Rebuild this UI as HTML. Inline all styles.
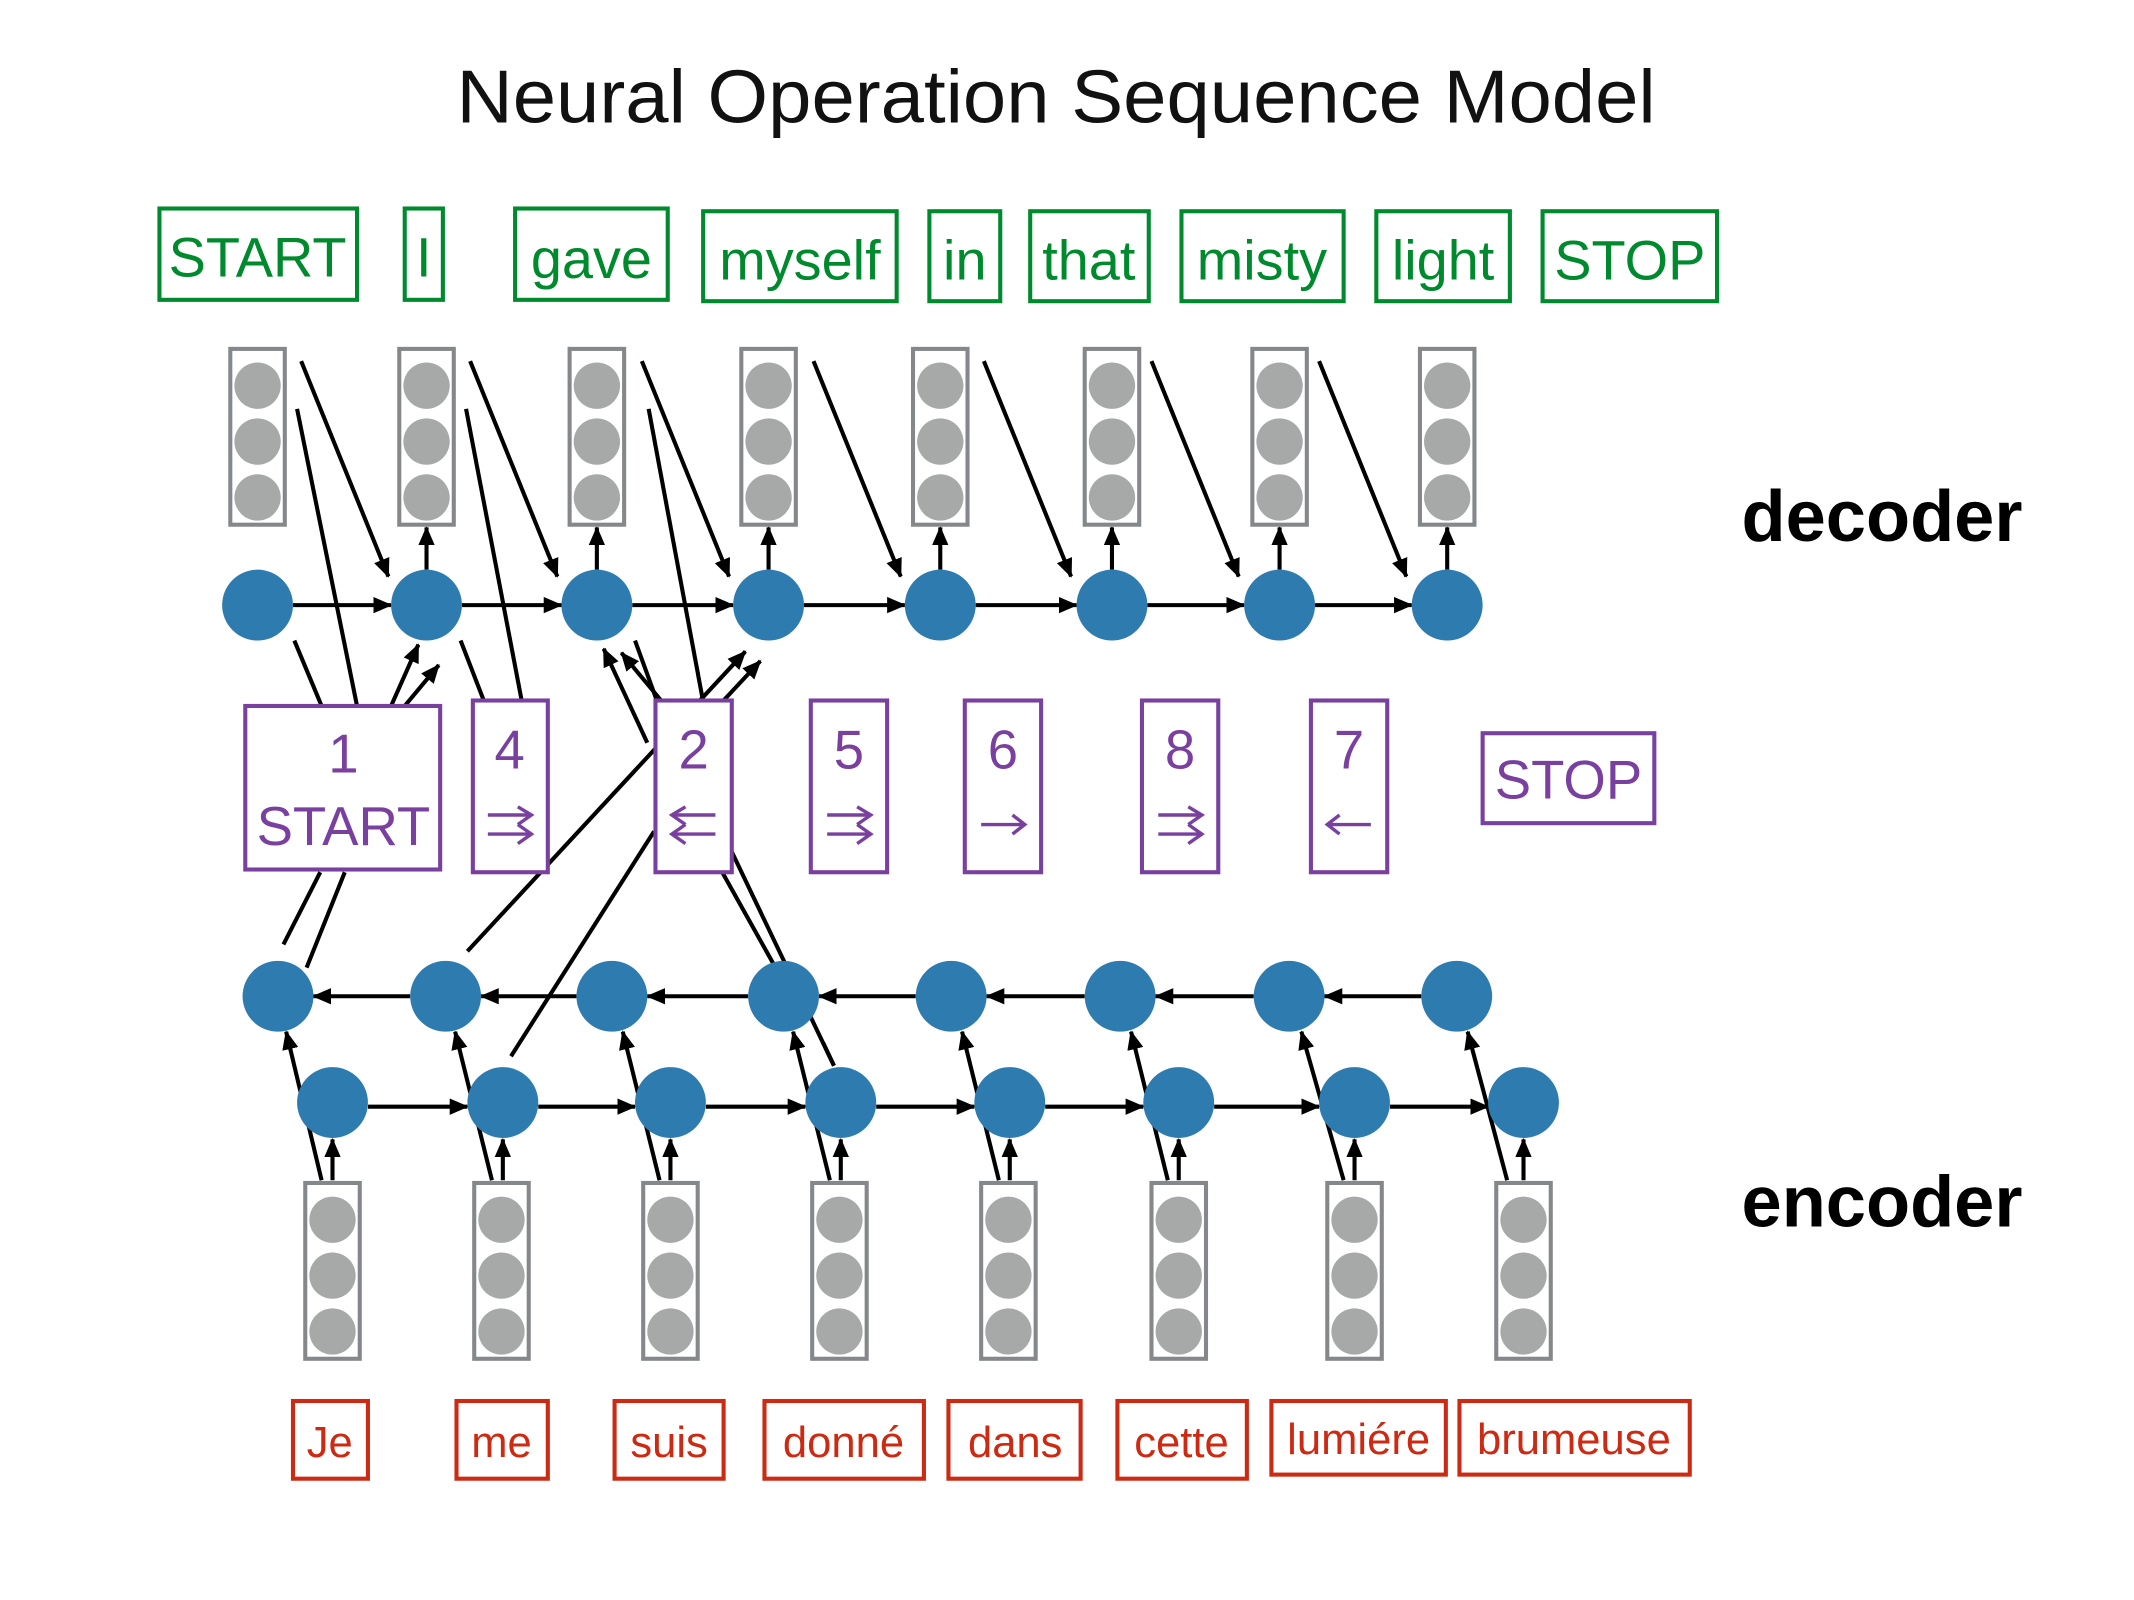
<!DOCTYPE html>
<html><head><meta charset="utf-8"><style>
html,body{margin:0;padding:0;background:#fff;}
svg{display:block;}
text{font-family:"Liberation Sans",sans-serif;}
</style></head><body>
<svg width="2134" height="1600" viewBox="0 0 1566 1174" preserveAspectRatio="none" xmlns="http://www.w3.org/2000/svg">
<defs>
<marker id="a" markerUnits="userSpaceOnUse" markerWidth="14" markerHeight="12" refX="13" refY="6" orient="auto">
<path d="M0,0 L14,6 L0,12 z" fill="#000"/>
</marker>
<g id="vec">
<rect x="-20" y="0" width="40" height="129" fill="#fff" stroke="#85888b" stroke-width="3"/>
<circle cx="0" cy="27" r="17" fill="#a6a9a8"/>
<circle cx="0" cy="68" r="17" fill="#a6a9a8"/>
<circle cx="0" cy="109" r="17" fill="#a6a9a8"/>
</g>
</defs>
<rect width="1566" height="1174" fill="#fff"/>
<text x="335" y="90" font-size="55" textLength="880" lengthAdjust="spacingAndGlyphs" fill="#111">Neural Operation Sequence Model</text>

<g fill="none" stroke="#008a2e" stroke-width="3">
<rect x="117" y="153" width="145" height="67"/>
<rect x="297" y="153" width="28" height="67"/>
<rect x="378" y="153" width="112" height="67"/>
<rect x="516" y="155" width="142" height="66"/>
<rect x="682" y="155" width="52" height="66"/>
<rect x="756" y="155" width="87" height="66"/>
<rect x="867" y="155" width="119" height="66"/>
<rect x="1010" y="155" width="98" height="66"/>
<rect x="1132" y="155" width="128" height="66"/>
</g>
<g fill="#008a2e" font-size="41" text-anchor="middle">
<text x="189" y="203">START</text>
<text x="311" y="203">I</text>
<text x="434" y="204">gave</text>
<text x="587" y="205">myself</text>
<text x="708" y="205">in</text>
<text x="799" y="205">that</text>
<text x="926" y="205">misty</text>
<text x="1059" y="205">light</text>
<text x="1196" y="205">STOP</text>
</g>

<g stroke="#000" stroke-width="3" fill="none">
<line x1="215" y1="444" x2="287" y2="444" marker-end="url(#a)"/>
<line x1="339" y1="444" x2="412" y2="444" marker-end="url(#a)"/>
<line x1="464" y1="444" x2="538" y2="444" marker-end="url(#a)"/>
<line x1="590" y1="444" x2="664" y2="444" marker-end="url(#a)"/>
<line x1="716" y1="444" x2="790" y2="444" marker-end="url(#a)"/>
<line x1="842" y1="444" x2="913" y2="444" marker-end="url(#a)"/>
<line x1="965" y1="444" x2="1036" y2="444" marker-end="url(#a)"/>
<line x1="313" y1="418" x2="313" y2="387" marker-end="url(#a)"/>
<line x1="438" y1="418" x2="438" y2="387" marker-end="url(#a)"/>
<line x1="564" y1="418" x2="564" y2="387" marker-end="url(#a)"/>
<line x1="690" y1="418" x2="690" y2="387" marker-end="url(#a)"/>
<line x1="816" y1="418" x2="816" y2="387" marker-end="url(#a)"/>
<line x1="939" y1="418" x2="939" y2="387" marker-end="url(#a)"/>
<line x1="1062" y1="418" x2="1062" y2="387" marker-end="url(#a)"/>
<line x1="221" y1="265" x2="285" y2="423" marker-end="url(#a)"/>
<line x1="345" y1="265" x2="409" y2="423" marker-end="url(#a)"/>
<line x1="471" y1="265" x2="535" y2="423" marker-end="url(#a)"/>
<line x1="597" y1="265" x2="661" y2="423" marker-end="url(#a)"/>
<line x1="722" y1="265" x2="786" y2="423" marker-end="url(#a)"/>
<line x1="845" y1="265" x2="909" y2="423" marker-end="url(#a)"/>
<line x1="968" y1="265" x2="1032" y2="423" marker-end="url(#a)"/>
<line x1="218" y1="300" x2="262" y2="518"/>
<line x1="342" y1="300" x2="383" y2="515"/>
<line x1="476" y1="300" x2="516" y2="515"/>
<line x1="216" y1="470" x2="236" y2="518"/>
<line x1="338" y1="470" x2="355" y2="514"/>
<line x1="466" y1="470" x2="482" y2="514"/>
<line x1="287" y1="518" x2="307" y2="473" marker-end="url(#a)"/>
<line x1="297" y1="518" x2="322" y2="488" marker-end="url(#a)"/>
<line x1="208" y1="693" x2="235" y2="640"/>
<line x1="225" y1="710" x2="253" y2="640"/>
<line x1="343" y1="698" x2="547" y2="478" marker-end="url(#a)"/>
<line x1="530" y1="515" x2="558" y2="485" marker-end="url(#a)"/>
<path d="M375,775 L480,610"/>
<line x1="475" y1="545" x2="443" y2="476" marker-end="url(#a)"/>
<line x1="486" y1="515" x2="456" y2="479" marker-end="url(#a)"/>
<line x1="612" y1="782" x2="537" y2="625"/>
<line x1="568" y1="708" x2="530" y2="640"/>
<line x1="301" y1="731" x2="230" y2="731" marker-end="url(#a)"/>
<line x1="423" y1="731" x2="353" y2="731" marker-end="url(#a)"/>
<line x1="549" y1="731" x2="475" y2="731" marker-end="url(#a)"/>
<line x1="672" y1="731" x2="601" y2="731" marker-end="url(#a)"/>
<line x1="796" y1="731" x2="724" y2="731" marker-end="url(#a)"/>
<line x1="920" y1="731" x2="848" y2="731" marker-end="url(#a)"/>
<line x1="1043" y1="731" x2="972" y2="731" marker-end="url(#a)"/>
<line x1="270" y1="812" x2="343" y2="812" marker-end="url(#a)"/>
<line x1="395" y1="812" x2="466" y2="812" marker-end="url(#a)"/>
<line x1="518" y1="812" x2="591" y2="812" marker-end="url(#a)"/>
<line x1="643" y1="812" x2="715" y2="812" marker-end="url(#a)"/>
<line x1="767" y1="812" x2="839" y2="812" marker-end="url(#a)"/>
<line x1="891" y1="812" x2="968" y2="812" marker-end="url(#a)"/>
<line x1="1020" y1="812" x2="1092" y2="812" marker-end="url(#a)"/>
<line x1="244" y1="866" x2="244" y2="836" marker-end="url(#a)"/>
<line x1="369" y1="866" x2="369" y2="836" marker-end="url(#a)"/>
<line x1="492" y1="866" x2="492" y2="836" marker-end="url(#a)"/>
<line x1="617" y1="866" x2="617" y2="836" marker-end="url(#a)"/>
<line x1="741" y1="866" x2="741" y2="836" marker-end="url(#a)"/>
<line x1="865" y1="866" x2="865" y2="836" marker-end="url(#a)"/>
<line x1="994" y1="866" x2="994" y2="836" marker-end="url(#a)"/>
<line x1="1118" y1="866" x2="1118" y2="836" marker-end="url(#a)"/>
<line x1="236" y1="866" x2="210" y2="757" marker-end="url(#a)"/>
<line x1="361" y1="866" x2="334" y2="757" marker-end="url(#a)"/>
<line x1="484" y1="866" x2="457" y2="757" marker-end="url(#a)"/>
<line x1="609" y1="866" x2="582" y2="757" marker-end="url(#a)"/>
<line x1="733" y1="866" x2="706" y2="757" marker-end="url(#a)"/>
<line x1="857" y1="866" x2="830" y2="757" marker-end="url(#a)"/>
<line x1="986" y1="866" x2="955" y2="757" marker-end="url(#a)"/>
<line x1="1106" y1="866" x2="1077" y2="757" marker-end="url(#a)"/>
</g>

<g fill="#2e7bb0">
<circle cx="189" cy="444" r="26"/><circle cx="313" cy="444" r="26"/><circle cx="438" cy="444" r="26"/><circle cx="564" cy="444" r="26"/>
<circle cx="690" cy="444" r="26"/><circle cx="816" cy="444" r="26"/><circle cx="939" cy="444" r="26"/><circle cx="1062" cy="444" r="26"/>
<circle cx="204" cy="731" r="26"/><circle cx="327" cy="731" r="26"/><circle cx="449" cy="731" r="26"/><circle cx="575" cy="731" r="26"/>
<circle cx="698" cy="731" r="26"/><circle cx="822" cy="731" r="26"/><circle cx="946" cy="731" r="26"/><circle cx="1069" cy="731" r="26"/>
<circle cx="244" cy="809" r="26"/><circle cx="369" cy="809" r="26"/><circle cx="492" cy="809" r="26"/><circle cx="617" cy="809" r="26"/>
<circle cx="741" cy="809" r="26"/><circle cx="865" cy="809" r="26"/><circle cx="994" cy="809" r="26"/><circle cx="1118" cy="809" r="26"/>
</g>
<g stroke="#000" stroke-width="3">
<line x1="604" y1="765" x2="612" y2="782"/>
</g>

<use href="#vec" x="189" y="256"/><use href="#vec" x="313" y="256"/><use href="#vec" x="438" y="256"/><use href="#vec" x="564" y="256"/>
<use href="#vec" x="690" y="256"/><use href="#vec" x="816" y="256"/><use href="#vec" x="939" y="256"/><use href="#vec" x="1062" y="256"/>
<use href="#vec" x="244" y="868"/><use href="#vec" x="368" y="868"/><use href="#vec" x="492" y="868"/><use href="#vec" x="616" y="868"/>
<use href="#vec" x="740" y="868"/><use href="#vec" x="865" y="868"/><use href="#vec" x="994" y="868"/><use href="#vec" x="1118" y="868"/>

<g fill="#fff" stroke="#7a40a0" stroke-width="3">
<rect x="180" y="518" width="143" height="120"/>
<rect x="347" y="514" width="55" height="126"/>
<rect x="481" y="514" width="56" height="126"/>
<rect x="595" y="514" width="56" height="126"/>
<rect x="708" y="514" width="56" height="126"/>
<rect x="838" y="514" width="56" height="126"/>
<rect x="962" y="514" width="56" height="126"/>
<rect x="1088" y="538" width="126" height="66"/>
</g>
<g fill="#7a40a0" font-size="40" text-anchor="middle">
<text x="252" y="567">1</text>
<text x="252" y="620">START</text>
<text x="374" y="564">4</text>
<text x="509" y="564">2</text>
<text x="623" y="564">5</text>
<text x="736" y="564">6</text>
<text x="866" y="564">8</text>
<text x="990" y="564">7</text>
<text x="1151" y="586">STOP</text>
</g>
<g stroke="#7a40a0" stroke-width="2.5" fill="none">
<path d="M358,598 H390 M358,612 H390 M380,592 L390,598 L380,605 M380,605 L390,612 L380,619"/>
<path d="M493,598 H525 M493,612 H525 M503,592 L493,598 L503,605 M503,605 L493,612 L503,619"/>
<path d="M607,598 H639 M607,612 H639 M629,592 L639,598 L629,605 M629,605 L639,612 L629,619"/>
<path d="M720,605 H752 M743,598 L752,605 L743,612"/>
<path d="M850,598 H882 M850,612 H882 M872,592 L882,598 L872,605 M872,605 L882,612 L872,619"/>
<path d="M974,605 H1006 M983,598 L974,605 L983,612"/>
</g>

<g fill="none" stroke="#cc2a12" stroke-width="3">
<rect x="215" y="1028" width="55" height="57"/>
<rect x="335" y="1028" width="67" height="57"/>
<rect x="451" y="1028" width="80" height="57"/>
<rect x="561" y="1028" width="117" height="57"/>
<rect x="696" y="1028" width="97" height="57"/>
<rect x="820" y="1028" width="95" height="57"/>
<rect x="933" y="1028" width="128" height="54"/>
<rect x="1071" y="1028" width="169" height="54"/>
</g>
<g fill="#cc2a12" font-size="32" text-anchor="middle">
<text x="242" y="1069">Je</text>
<text x="368" y="1069">me</text>
<text x="491" y="1069">suis</text>
<text x="619" y="1069">donné</text>
<text x="745" y="1069">dans</text>
<text x="867" y="1069">cette</text>
<text x="997" y="1067">lumiére</text>
<text x="1155" y="1067">brumeuse</text>
</g>

<text x="1278" y="397" font-size="53" font-weight="bold" fill="#000">decoder</text>
<text x="1278" y="900" font-size="53" font-weight="bold" fill="#000">encoder</text>
</svg>
</body></html>
